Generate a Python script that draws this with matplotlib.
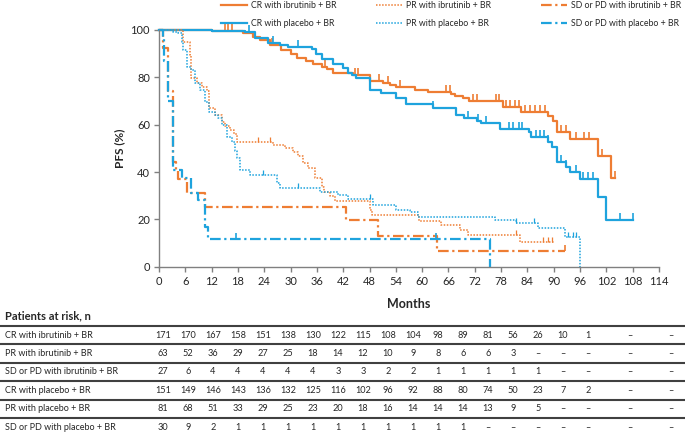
import numpy as np
import matplotlib
matplotlib.use('Agg')
import matplotlib.pyplot as plt
from matplotlib.path import Path
from matplotlib.lines import Line2D

plt.rcParams['font.family'] = ['Lato', 'DejaVu Sans']

ORANGE = '#EE7D33'
BLUE = '#1EA3DD'
TXT = '#262626'

# ---------------- data ----------------
months_ticks = list(range(0, 115, 6))
pfs_ticks = [0, 20, 40, 60, 80, 100]

# CR with ibrutinib + BR
cr_ibr_t = [0, 12, 19.2, 21.5, 23.0, 25.3, 27.9, 30.2, 31.4, 33.6, 35.2, 37.1, 38.2, 39.7, 44.3,
            48.1, 51.1, 52.6, 54.1, 58.3, 61.3, 66.6, 67.5, 69.3, 70.6, 78.4, 82.6, 88.7, 89.8,
            90.7, 93.8, 100.1, 103.1]
cr_ibr_s = [100, 99.5, 98.6, 97.2, 95.8, 93.7, 91.5, 89.7, 88.0, 86.9, 85.8, 84.5, 83.4, 82.0, 81.0,
            78.5, 77.5, 76.8, 75.8, 74.8, 74.0, 73.0, 72.2, 71.1, 69.8, 67.4, 65.5, 63.6, 61.5,
            57.0, 53.8, 46.9, 37.6]
cr_ibr_end = 104.0
cr_ibr_cens = [15, 15.8, 16.6, 25.7, 37.8, 44.6, 45.4, 50.2, 52.2, 54.9, 65.4, 66.3, 71.6, 72.4,
               76.8, 77.5, 79.2, 80.1, 81.1, 82.1, 83.4, 84.5, 85.7, 86.8, 88.0, 91.7, 92.9,
               95.0, 97.0, 98.0, 101.0, 104.0]

# PR with ibrutinib + BR
pr_ibr_t = [0, 5.5, 7.1, 7.3, 8.6, 9.7, 10.9, 11.5, 12.8, 14.3, 15.0, 16.2, 17.0, 17.7, 26.0,
            28.7, 30.6, 31.7, 32.9, 34.0, 35.5, 37.1, 37.6, 39.0, 40.1, 48.1, 48.5, 59.3, 64.4,
            68.6, 70.5, 82.2]
pr_ibr_s = [100, 95.0, 89.4, 79.6, 77.5, 76.0, 74.4, 66.9, 64.1, 61.0, 59.5, 57.8, 56.0, 52.8, 51.5,
            50.0, 48.6, 46.6, 43.7, 41.6, 37.3, 33.8, 31.7, 29.9, 27.8, 24.0, 21.8, 19.5, 17.6,
            15.5, 13.4, 10.6]
pr_ibr_end = 90.0
pr_ibr_cens = [22.6, 25.3, 81.5, 87.5, 88.7, 89.7]

# SD or PD with ibrutinib + BR
sd_ibr_t = [0, 1.0, 2.1, 3.3, 3.8, 4.4, 6.3, 10.5, 42.7, 50.0, 63.3]
sd_ibr_s = [100, 92.6, 74.1, 44.4, 40.7, 37.0, 31.3, 25.4, 19.7, 12.9, 6.6]
sd_ibr_end = 92.5
sd_ibr_cens = [92.5]

# CR with placebo + BR
cr_pla_t = [0, 12, 19.6, 21.9, 24.9, 27.6, 29.5, 34.8, 35.8, 37.1, 39.7, 42.0, 43.1, 43.9, 45.0,
            48.1, 50.7, 54.1, 56.4, 62.5, 67.8, 69.5, 72.5, 73.5, 77.7, 84.4, 84.9, 88.7, 89.6,
            90.7, 92.9, 93.8, 95.9, 100.1, 102.0]
cr_pla_s = [100, 99.6, 99.0, 96.5, 94.4, 93.5, 93.0, 92.0, 89.7, 87.6, 85.5, 83.8, 82.0, 81.0, 79.9,
            74.7, 73.2, 71.4, 68.7, 66.9, 64.1, 62.7, 61.7, 60.6, 58.2, 57.0, 54.7, 52.8, 50.4,
            44.4, 42.2, 39.9, 37.1, 29.6, 19.7]
cr_pla_end = 108.0
cr_pla_cens = [20.5, 26.0, 31.7, 62.5, 70.5, 72.7, 74.5, 79.8, 80.6, 82.1, 82.8, 85.9, 86.8,
               87.7, 88.8, 91.7, 92.9, 95.0, 96.7, 97.8, 98.9, 105.2, 108.0]

# PR with placebo + BR
pr_pla_t = [0, 3.3, 4.4, 5.2, 5.4, 6.3, 7.4, 8.2, 9.3, 10.5, 11.5, 12.8, 13.5, 14.3, 15.4, 16.6,
            17.3, 17.8, 18.5, 20.7, 26.8, 27.5, 36.7, 40.8, 43.1, 48.8, 54.1, 57.2, 59.1, 76.5,
            81.5, 86.4, 92.5, 95.9]
pr_pla_s = [100, 99.3, 98.6, 95.0, 91.5, 84.5, 83.0, 77.5, 74.6, 69.7, 65.5, 64.0, 62.7, 59.9, 54.9,
            52.8, 48.9, 45.8, 40.9, 38.7, 35.2, 33.1, 31.7, 30.3, 28.6, 26.1, 24.0, 22.9, 21.1,
            19.7, 18.3, 16.2, 12.7, 0]
pr_pla_end = 95.9
pr_pla_cens = [23.8, 31.7, 48.1, 81.5, 85.6, 93.2, 94.4, 95.1]

# SD or PD with placebo + BR
sd_pla_t = [0, 1.0, 1.1, 2.1, 3.1, 5.2, 7.4, 9.0, 10.5, 11.2, 75.4]
sd_pla_s = [100, 96.7, 86.7, 70.0, 40.9, 37.3, 31.0, 28.0, 16.9, 11.6, 0]
sd_pla_end = 75.4
sd_pla_cens = [17.5, 63.2]

row_labels = ['CR with ibrutinib + BR', 'PR with ibrutinib + BR', 'SD or PD with ibrutinib + BR',
              'CR with placebo + BR', 'PR with placebo + BR', 'SD or PD with placebo + BR']
D = None
risk_cr_ibr = [171, 170, 167, 158, 151, 138, 130, 122, 115, 108, 104, 98, 89, 81, 56, 26, 10, 1, D, D]
risk_pr_ibr = [63, 52, 36, 29, 27, 25, 18, 14, 12, 10, 9, 8, 6, 6, 3, D, D, D, D, D]
risk_sd_ibr = [27, 6, 4, 4, 4, 4, 4, 3, 3, 2, 2, 1, 1, 1, 1, 1, D, D, D, D]
risk_cr_pla = [151, 149, 146, 143, 136, 132, 125, 116, 102, 96, 92, 88, 80, 74, 50, 23, 7, 2, D, D]
risk_pr_pla = [81, 68, 51, 33, 29, 25, 23, 20, 18, 16, 14, 14, 14, 13, 9, 5, D, D, D, D]
risk_sd_pla = [30, 9, 2, 1, 1, 1, 1, 1, 1, 1, 1, 1, 1, D, D, D, D, D, D, D]

# ---------------- figure ----------------
W, H = 685, 438
fig = plt.figure(figsize=(W / 100, H / 100), dpi=100)
ax = fig.add_axes([159 / W, 1 - 266.7 / H, (659 - 159) / W, (266.7 - 30) / H])

tick_path = Path([(0, 0), (0, 1)], [Path.MOVETO, Path.LINETO])

solid = dict(linestyle='-', linewidth=1.6)
dotted = dict(linestyle=(0, (1, 1)), linewidth=1.1)
dashdot = dict(dashes=(4.8, 1.6, 1.0, 1.6), linewidth=1.6)

curves = [
    (cr_ibr_t, cr_ibr_s, cr_ibr_end, cr_ibr_cens, ORANGE, solid, 10, 'CR with ibrutinib + BR'),
    (cr_pla_t, cr_pla_s, cr_pla_end, cr_pla_cens, BLUE, solid, 10, 'CR with placebo + BR'),
    (pr_ibr_t, pr_ibr_s, pr_ibr_end, pr_ibr_cens, ORANGE, dotted, 7, 'PR with ibrutinib + BR'),
    (pr_pla_t, pr_pla_s, pr_pla_end, pr_pla_cens, BLUE, dotted, 7, 'PR with placebo + BR'),
    (sd_ibr_t, sd_ibr_s, sd_ibr_end, sd_ibr_cens, ORANGE, dashdot, 9, 'SD or PD with ibrutinib + BR'),
    (sd_pla_t, sd_pla_s, sd_pla_end, sd_pla_cens, BLUE, dashdot, 9, 'SD or PD with placebo + BR'),
]

handles = []
for t, s, end, cens, col, sty, ms, lab in curves:
    tt = list(t) + [end]
    ss = list(s) + [s[-1]]
    ln, = ax.step(tt, ss, where='post', color=col, label=lab, clip_on=False, **sty)
    handles.append(ln)
    ta = np.array(t)
    sa = np.array(s)
    idx = np.searchsorted(ta, np.array(cens), side='right') - 1
    cy = sa[idx]
    ax.plot(cens, cy, linestyle='none', marker=tick_path, markersize=ms,
            markeredgecolor=col, markeredgewidth=1.2 if sty is not dotted else 0.9, clip_on=False)

ax.set_xlim(0, 114)
ax.set_ylim(0, 100)
ax.set_xticks(months_ticks)
ax.set_yticks(pfs_ticks)
for sp in ['top', 'right']:
    ax.spines[sp].set_visible(False)
for sp in ['left', 'bottom']:
    ax.spines[sp].set_color('#808080')
    ax.spines[sp].set_linewidth(1.0)
ax.tick_params(axis='both', direction='out', length=3.5, width=1.0, color='#808080',
               labelsize=8, labelcolor=TXT, pad=3)
ax.set_xlabel('Months', fontsize=9, fontweight='bold', color=TXT, labelpad=8)
ax.set_ylabel('PFS (%)', fontsize=8.5, fontweight='bold', color=TXT, labelpad=4)

# legend: three columns placed separately
leg_x = [221, 376, 541]
for k in range(3):
    lg = fig.legend(handles[2 * k:2 * k + 2], [h.get_label() for h in handles[2 * k:2 * k + 2]],
                    loc='upper left', bbox_to_anchor=(leg_x[k] / W, 1.0 - 1.0 / H), frameon=False,
                    fontsize=6.3, handlelength=3.0, handletextpad=0.4, borderpad=0,
                    borderaxespad=0, labelspacing=1.0)
    for tx in lg.get_texts():
        tx.set_color(TXT)

# ---------------- risk table ----------------
col_x = [163 + 25 * i for i in range(18)] + [630, 671]
line_y = [326, 344.4, 362.8, 381.2, 399.6, 418]
row_y = [y + 9.2 for y in line_y]
rows = [risk_cr_ibr, risk_pr_ibr, risk_sd_ibr, risk_cr_pla, risk_pr_pla, risk_sd_pla]

fig.text(5 / W, 1 - 316 / H, 'Patients at risk, n', fontsize=8, fontweight='bold',
         color=TXT, ha='left', va='center')
for ly in line_y:
    fig.add_artist(Line2D([0, 1], [1 - ly / H, 1 - ly / H], color='#404040', linewidth=1.5))
for r, (lab, vals) in enumerate(zip(row_labels, rows)):
    fig.text(5 / W, 1 - row_y[r] / H, lab, fontsize=6.5, color=TXT, ha='left', va='center')
    for c, v in enumerate(vals):
        txt = '\u2013' if v is None else str(v)
        fig.text(col_x[c] / W, 1 - row_y[r] / H, txt, fontsize=6.6, color=TXT,
                 ha='center', va='center')

fig.savefig('out.png', dpi=100)
